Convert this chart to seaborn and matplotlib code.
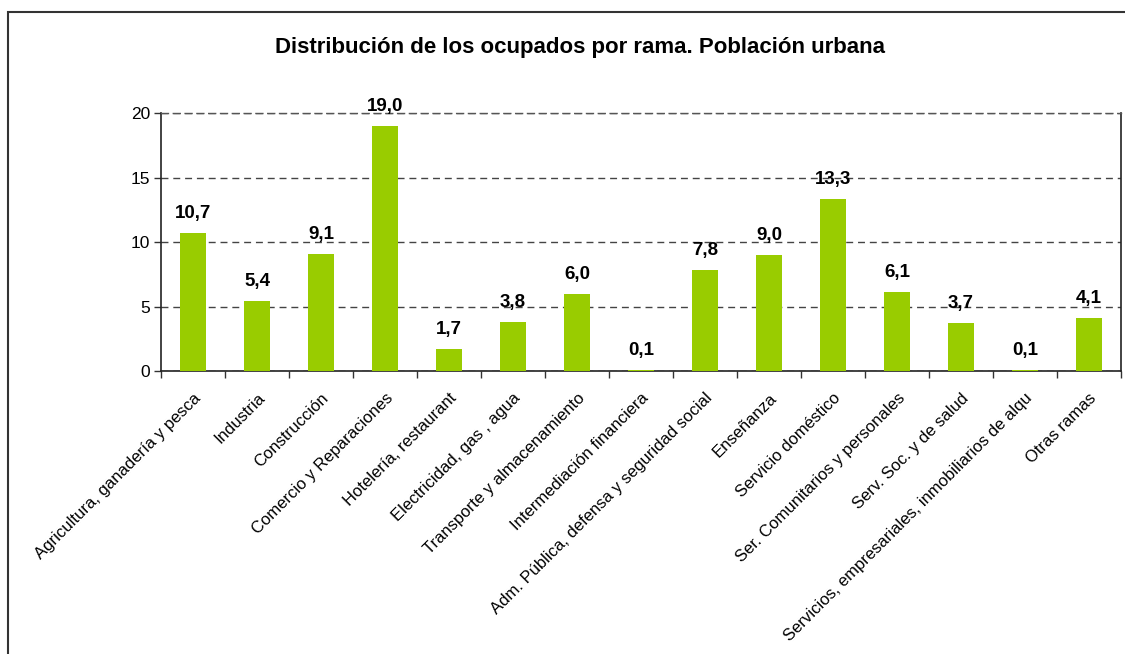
import matplotlib
matplotlib.use('Agg')
import matplotlib.pyplot as plt
import seaborn as sns
import numpy as np
from matplotlib.patches import Rectangle

ramas = [
    'Agricultura, ganadería y pesca',
    'Industria',
    'Construcción',
    'Comercio y Reparaciones',
    'Hotelería, restaurant',
    'Electricidad, gas , agua',
    'Transporte y almacenamiento',
    'Intermediación financiera',
    'Adm. Pública, defensa y seguridad social',
    'Enseñanza',
    'Servicio doméstico',
    'Ser. Comunitarios y personales',
    'Serv. Soc. y de salud',
    'Servicios, empresariales, inmobiliarios de alqu',
    'Otras ramas',
]
ocupados = [10.7, 5.4, 9.1, 19.0, 1.7, 3.8, 6.0, 0.1, 7.8, 9.0, 13.3, 6.1, 3.7, 0.1, 4.1]
y_ticks = [0, 5, 10, 15, 20]

sns.set_style('white')
plt.rcParams['font.family'] = ['Liberation Sans', 'DejaVu Sans']
plt.rcParams['text.color'] = 'black'
plt.rcParams['xtick.color'] = 'black'
plt.rcParams['ytick.color'] = 'black'

fig = plt.figure(figsize=(11.25, 6.54), dpi=100)
ax = fig.add_axes([0.1431, 0.4327, 0.9964 - 0.1431, 0.8272 - 0.4327])

sns.barplot(x=ramas, y=ocupados, color='#99CC00', saturation=1, width=0.42,
            linewidth=0, zorder=3, ax=ax)

ax.set_ylim(0, 20)
ax.set_xlim(-0.5, len(ramas) - 0.5)
ax.set_yticks(y_ticks)
ax.set_yticklabels([str(t) for t in y_ticks], fontsize=12.5)
ax.tick_params(axis='y', length=5, width=1, color='#333333', pad=3, direction='out', left=True)

# labels at bar centres, tick marks between bars
ax.set_xticks(range(len(ramas)))
ax.set_xticklabels(ramas, rotation=45, ha='right', rotation_mode='anchor', fontsize=12)
ax.tick_params(axis='x', which='major', length=0, pad=14)
ax.set_xticks(np.arange(-0.5, len(ramas)), minor=True)
ax.tick_params(axis='x', which='minor', length=5, width=1, color='#333333', direction='out', bottom=True)

ax.yaxis.grid(True, linestyle=(0, (5, 3.5)), color='#444444', linewidth=1)
ax.set_axisbelow(True)

for side in ['left', 'right', 'bottom']:
    ax.spines[side].set_visible(True)
    ax.spines[side].set_color('#222222')
    ax.spines[side].set_linewidth(1.2)
ax.spines['top'].set_color('#555555')
ax.spines['top'].set_linestyle((0, (5, 3.5)))
ax.spines['top'].set_linewidth(1)

for i, v in enumerate(ocupados):
    ax.annotate(f'{v:.1f}'.replace('.', ','), xy=(i, v), xytext=(0, 14),
                textcoords='offset points', ha='center', va='center',
                fontsize=13.5, fontweight='bold', color='black')

fig.text(0.5156, 0.928, 'Distribución de los ocupados por rama. Población urbana',
         ha='center', va='center', fontsize=16, fontweight='bold', color='black')

# outer chart frame
fig.patches.append(Rectangle((8 / 1125, -0.1), 1.2, 1 - 12 / 654 + 0.1,
                             transform=fig.transFigure, fill=False,
                             edgecolor='#333333', linewidth=1.5))

fig.savefig('out.png', dpi=100)
